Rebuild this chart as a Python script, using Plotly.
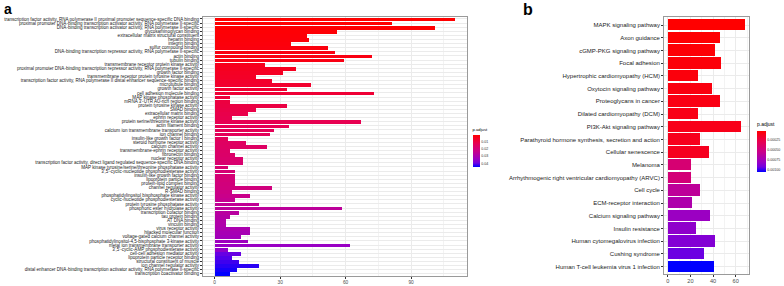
import plotly.graph_objects as go

W, H = 784, 286

# ---------------- Panel a (GO terms) ----------------
go_terms = [
    "transcription factor activity, RNA polymerase II proximal promoter sequence-specific DNA binding",
    "proximal promoter DNA-binding transcription activator activity, RNA polymerase II-specific",
    "DNA-binding transcription activator activity, RNA polymerase II-specific",
    "glycosaminoglycan binding",
    "extracellular matrix structural constituent",
    "heparin binding",
    "integrin binding",
    "sulfur compound binding",
    "DNA-binding transcription repressor activity, RNA polymerase II-specific",
    "actin binding",
    "tubulin binding",
    "transmembrane receptor protein kinase activity",
    "proximal promoter DNA-binding transcription repressor activity, RNA polymerase II-specific",
    "growth factor binding",
    "transmembrane receptor protein tyrosine kinase activity",
    "transcription factor activity, RNA polymerase II distal enhancer sequence-specific binding",
    "microtubule binding",
    "growth factor activity",
    "cell adhesion molecule binding",
    "MAP kinase phosphatase activity",
    "mRNA 3'-UTR AU-rich region binding",
    "protein tyrosine kinase activity",
    "SMAD binding",
    "extracellular matrix binding",
    "ephrin receptor activity",
    "protein serine/threonine kinase activity",
    "actin filament binding",
    "calcium ion transmembrane transporter activity",
    "ion channel binding",
    "insulin-like growth factor I binding",
    "steroid hormone receptor activity",
    "calcium channel activity",
    "transmembrane-ephrin receptor activity",
    "fibronectin binding",
    "nuclear receptor activity",
    "transcription factor activity, direct ligand regulated sequence-specific DNA binding",
    "MAP kinase tyrosine/serine/threonine phosphatase activity",
    "3',5'-cyclic-nucleotide phosphodiesterase activity",
    "insulin-like growth factor binding",
    "lipoprotein particle binding",
    "protein-lipid complex binding",
    "channel regulator activity",
    "R-SMAD binding",
    "phosphatidylinositol bisphosphate kinase activity",
    "cyclic-nucleotide phosphodiesterase activity",
    "protein tyrosine phosphatase activity",
    "phosphoric ester hydrolase activity",
    "transcription cofactor binding",
    "tau protein binding",
    "AT DNA binding",
    "vinculin binding",
    "virus receptor activity",
    "hijacked molecular function",
    "voltage-gated calcium channel activity",
    "phosphatidylinositol-4,5-bisphosphate 3-kinase activity",
    "metal ion transmembrane transporter activity",
    "3',5'-cyclic-AMP phosphodiesterase activity",
    "cell-cell adhesion mediator activity",
    "lipoprotein particle receptor binding",
    "structural constituent of muscle",
    "ion channel regulator activity",
    "distal enhancer DNA-binding transcription activator activity, RNA polymerase II-specific",
    "transcription coactivator binding",
]
go_counts = [110, 81, 101, 56, 42, 43, 35, 52, 55, 72,
             59, 23, 37, 31, 19, 26, 44, 33, 73, 7,
             7, 33, 19, 15, 8, 67, 34, 27, 25, 6,
             14, 24, 7, 9, 13, 13, 6, 9, 9, 9,
             9, 26, 8, 16, 9, 20, 58, 11, 7, 5,
             5, 16, 16, 12, 15, 62, 6, 12, 8, 11,
             20, 10, 7]
go_padj = [0.0005, 0.0006, 0.0008, 0.0012, 0.0015, 0.0018, 0.0020, 0.0025, 0.0028, 0.0030,
           0.0032, 0.0045, 0.0050, 0.0055, 0.0060, 0.0065, 0.0070, 0.0075, 0.0080, 0.0090,
           0.0095, 0.0100, 0.0105, 0.0110, 0.0115, 0.0120, 0.0125, 0.0130, 0.0135, 0.0140,
           0.0150, 0.0155, 0.0160, 0.0165, 0.0170, 0.0175, 0.0180, 0.0185, 0.0190, 0.0195,
           0.0200, 0.0205, 0.0220, 0.0230, 0.0240, 0.0250, 0.0260, 0.0270, 0.0280, 0.0285,
           0.0290, 0.0300, 0.0310, 0.0320, 0.0330, 0.0340, 0.0350, 0.0400, 0.0410, 0.0420,
           0.0430, 0.0440, 0.0450]
go_xticks = [0, 30, 60, 90]
go_cbar_ticks = [0.01, 0.02, 0.03, 0.04]
go_cbar_text = ["0.01", "0.02", "0.03", "0.04"]

# ---------------- Panel b (KEGG pathways) ----------------
kegg_terms = [
    "MAPK signaling pathway",
    "Axon guidance",
    "cGMP-PKG signaling pathway",
    "Focal adhesion",
    "Hypertrophic cardiomyopathy (HCM)",
    "Oxytocin signaling pathway",
    "Proteoglycans in cancer",
    "Dilated cardiomyopathy (DCM)",
    "PI3K-Akt signaling pathway",
    "Parathyroid hormone synthesis, secretion and action",
    "Cellular senescence",
    "Melanoma",
    "Arrhythmogenic right ventricular cardiomyopathy (ARVC)",
    "Cell cycle",
    "ECM-receptor interaction",
    "Calcium signaling pathway",
    "Insulin resistance",
    "Human cytomegalovirus infection",
    "Cushing syndrome",
    "Human T-cell leukemia virus 1 infection",
]
kegg_counts = [68, 46, 42, 47, 27, 39, 46, 27, 65, 28,
               36, 20, 20, 28, 21, 37, 25, 42, 32, 41]
kegg_padj = [0.00002, 0.00003, 0.00004, 0.00005, 0.00006, 0.00007, 0.00008, 0.00009, 0.00010, 0.00011,
             0.00012, 0.00043, 0.00045, 0.00060, 0.00068, 0.00078, 0.00082, 0.00086, 0.00092, 0.00104]
kegg_xticks = [0, 20, 40, 60]
kegg_cbar_ticks = [0.00025, 0.00050, 0.00075, 0.00100]
kegg_cbar_text = ["0.00025", "0.00050", "0.00075", "0.00100"]

# ggplot-like gradient (Lab interpolation approximated), defined from high p (blue)
# to low p (red); colours are mapped to -p.adjust so the colourbar shows red on top.
cscale = [[0.0, "#0000FF"], [0.125, "#7300E0"], [0.25, "#9A00C3"],
          [0.5, "#CA0089"], [0.75, "#E8004F"], [1.0, "#FF0000"]]

FONT = "Liberation Sans, Arial, sans-serif"


def px_x(p):
    return p / W


def px_y(p):
    return 1 - p / H


def neg(vals):
    return [-v for v in vals]


fig = go.Figure()

fig.add_trace(go.Bar(
    x=go_counts, y=go_terms, orientation="h", width=0.9,
    xaxis="x", yaxis="y", customdata=go_padj,
    marker=dict(color=neg(go_padj), colorscale=cscale,
                cmin=-max(go_padj), cmax=-min(go_padj), line=dict(width=0),
                colorbar=dict(
                    x=px_x(472.5), xanchor="left", xref="paper",
                    y=px_y(125), yanchor="top", yref="paper",
                    len=42, lenmode="pixels", thickness=7, thicknessmode="pixels",
                    outlinewidth=0, ticks="", ypad=0, xpad=0,
                    tickvals=neg(go_cbar_ticks), ticktext=go_cbar_text,
                    tickfont=dict(size=3.6, color="#333", family=FONT),
                    title=dict(text="p.adjust", side="top",
                               font=dict(size=4.2, color="#000", family=FONT)),
                )),
    showlegend=False, hovertemplate="%{y}: %{x}<br>p.adjust=%{customdata}<extra></extra>",
))

fig.add_trace(go.Bar(
    x=kegg_counts, y=kegg_terms, orientation="h", width=0.9,
    xaxis="x2", yaxis="y2", customdata=kegg_padj,
    marker=dict(color=neg(kegg_padj), colorscale=cscale,
                cmin=-max(kegg_padj), cmax=-min(kegg_padj), line=dict(width=0),
                colorbar=dict(
                    x=px_x(757), xanchor="left", xref="paper",
                    y=px_y(119.5), yanchor="top", yref="paper",
                    len=52, lenmode="pixels", thickness=8.5, thicknessmode="pixels",
                    outlinewidth=0, ticks="", ypad=0, xpad=0,
                    tickvals=neg(kegg_cbar_ticks), ticktext=kegg_cbar_text,
                    tickfont=dict(size=3.6, color="#333", family=FONT),
                    title=dict(text="p.adjust", side="top",
                               font=dict(size=5, color="#000", family=FONT)),
                )),
    showlegend=False, hovertemplate="%{y}: %{x}<br>p.adjust=%{customdata}<extra></extra>",
))

grid = "#EBEBEB"
border = "#9A9A9A"

fig.update_layout(
    width=W, height=H, margin=dict(l=0, r=0, t=0, b=0, autoexpand=False),
    paper_bgcolor="white", plot_bgcolor="white",
    font=dict(family=FONT, color="#333"),
    bargap=0,
    xaxis=dict(
        domain=[px_x(202.7), px_x(466.7)], anchor="y", automargin=False,
        range=[-5.5, 115.5], tickmode="array", tickvals=go_xticks,
        showgrid=True, gridcolor=grid, gridwidth=0.6,
        minor=dict(dtick=15, tick0=15, showgrid=True, gridcolor="#F3F3F3", gridwidth=0.4),
        zeroline=False, showline=True, linecolor=border, linewidth=0.6, mirror=True,
        ticks="outside", ticklen=1.5, tickwidth=0.5, tickcolor="#333",
        tickfont=dict(size=4.8, color="#4D4D4D", family=FONT),
    ),
    yaxis=dict(
        domain=[px_y(276.3), px_y(16.5)], anchor="x", automargin=False,
        type="category", categoryorder="array", categoryarray=go_terms,
        tickmode="array", tickvals=go_terms, ticktext=go_terms,
        range=[len(go_terms) - 1 + 0.6, -0.6],
        showgrid=True, gridcolor=grid, gridwidth=0.5,
        zeroline=False, showline=True, linecolor=border, linewidth=0.6, mirror=True,
        ticks="outside", ticklen=2, tickwidth=0.5, tickcolor="#333",
        tickfont=dict(size=4.55, color="#222", family=FONT),
    ),
    xaxis2=dict(
        domain=[px_x(663.9), px_x(748.6)], anchor="y2", automargin=False,
        range=[-3.4, 71.4], tickmode="array", tickvals=kegg_xticks,
        showgrid=True, gridcolor=grid, gridwidth=0.6,
        minor=dict(dtick=10, tick0=10, showgrid=True, gridcolor="#F3F3F3", gridwidth=0.4),
        zeroline=False, showline=True, linecolor=border, linewidth=0.6, mirror=True,
        ticks="outside", ticklen=1.5, tickwidth=0.5, tickcolor="#333",
        tickfont=dict(size=5.6, color="#4D4D4D", family=FONT),
    ),
    yaxis2=dict(
        domain=[px_y(274.3), px_y(17.4)], anchor="x2", automargin=False,
        type="category", categoryorder="array", categoryarray=kegg_terms,
        tickmode="array", tickvals=kegg_terms, ticktext=kegg_terms,
        range=[len(kegg_terms) - 1 + 0.6, -0.6],
        showgrid=True, gridcolor=grid, gridwidth=0.6,
        zeroline=False, showline=True, linecolor=border, linewidth=0.6, mirror=True,
        ticks="outside", ticklen=2, tickwidth=0.5, tickcolor="#333",
        tickfont=dict(size=6.0, color="#222", family=FONT),
    ),
    annotations=[
        dict(text="<b>a</b>", x=px_x(2), y=px_y(-1.5), xref="paper", yref="paper",
             xanchor="left", yanchor="top", showarrow=False,
             font=dict(size=14, color="#000", family=FONT)),
        dict(text="<b>b</b>", x=px_x(521), y=px_y(-1.5), xref="paper", yref="paper",
             xanchor="left", yanchor="top", showarrow=False,
             font=dict(size=16, color="#000", family=FONT)),
    ],
)

fig.write_html(
    "out.html",
    config={"displayModeBar": False},
    post_script="document.body.style.margin='0';document.body.style.padding='0';"
                "document.documentElement.style.overflow='hidden';",
)
